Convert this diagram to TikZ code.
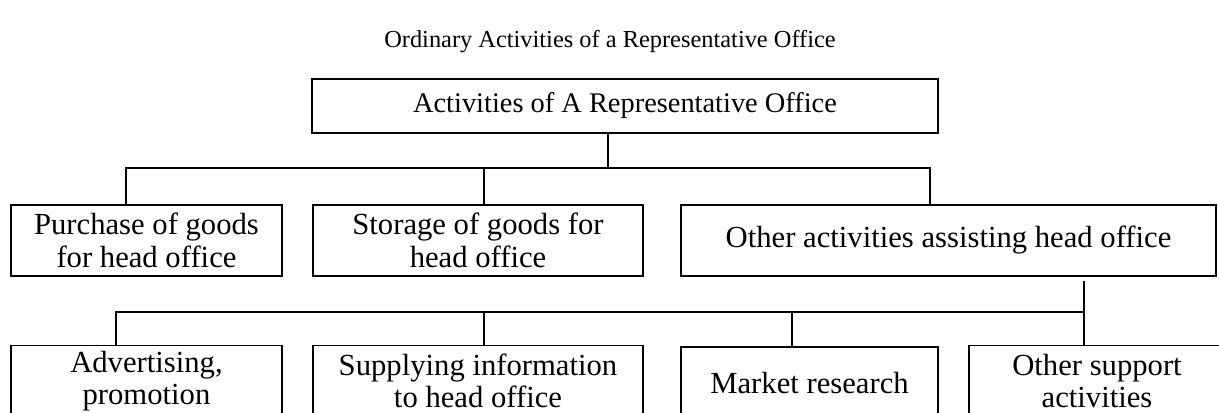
\documentclass[tikz,border=0pt]{standalone}
\usepackage{fontspec}
\setmainfont{Liberation Serif}
\begin{document}
\begin{tikzpicture}[x=0.75pt,y=-0.75pt,
  box/.style={draw, line width=1.1pt, inner sep=0pt, align=center,
    font=\fontsize{23}{25}\selectfont},
  lowbox/.style={box, font=\fontsize{23}{24}\selectfont},
  conn/.style={line width=0.9pt}]
\useasboundingbox (0,0) rectangle (1219,412);
\node[font=\fontsize{18.3}{22}\selectfont] (title) at (610,42) {Ordinary Activities of a Representative Office};
\node[box, minimum width=626*0.75pt, minimum height=54*0.75pt, font=\fontsize{21.3}{24}\selectfont] (top) at (625,106) {Activities of A Representative Office};
\node[box, minimum width=271*0.75pt, minimum height=71*0.75pt] (b1) at (146.5,240.5) {Purchase of goods\\for head office};
\node[box, minimum width=330*0.75pt, minimum height=71*0.75pt] (b2) at (478,240.5) {Storage of goods for\\head office};
\node[box, minimum width=535*0.75pt, minimum height=71*0.75pt] (b3) at (948.5,240.5) {Other activities assisting head office};
\node[lowbox, minimum width=271*0.75pt, minimum height=71*0.75pt] (c1) at (146.5,381) {Advertising,\\promotion};
\node[lowbox, minimum width=330*0.75pt, minimum height=71*0.75pt] (c2) at (478,381) {Supplying information\\to head office};
\node[lowbox, minimum width=257*0.75pt, minimum height=71*0.75pt] (c3) at (809.5,382.5) {Market research};
\node[lowbox, minimum width=256*0.75pt, minimum height=71*0.75pt] (c4) at (1097,381) {Other support\\activities};
% level 1 connectors
\coordinate (j1) at (608,168);
\coordinate (hl) at (126,168);
\coordinate (hr) at (930,168);
\coordinate (hm) at (484,168);
\draw[conn] (top.south -| j1) -- (j1);
\draw[conn] (b1.north -| hl) -- (hl) -- (hr) -- (b3.north -| hr);
\draw[conn] (hm) -- (b2.north -| hm);
% level 2 connectors
\coordinate (s3) at (1084,281);
\coordinate (r3) at (1084,312);
\coordinate (gl) at (116,312);
\coordinate (g2) at (484,312);
\coordinate (g3) at (792,312);
\draw[conn] (s3) -- (c4.north -| s3);
\draw[conn] (c1.north -| gl) -- (gl) -- (r3);
\draw[conn] (g2) -- (c2.north -| g2);
\draw[conn] (g3) -- (c3.north -| g3);
\end{tikzpicture}
\end{document}
